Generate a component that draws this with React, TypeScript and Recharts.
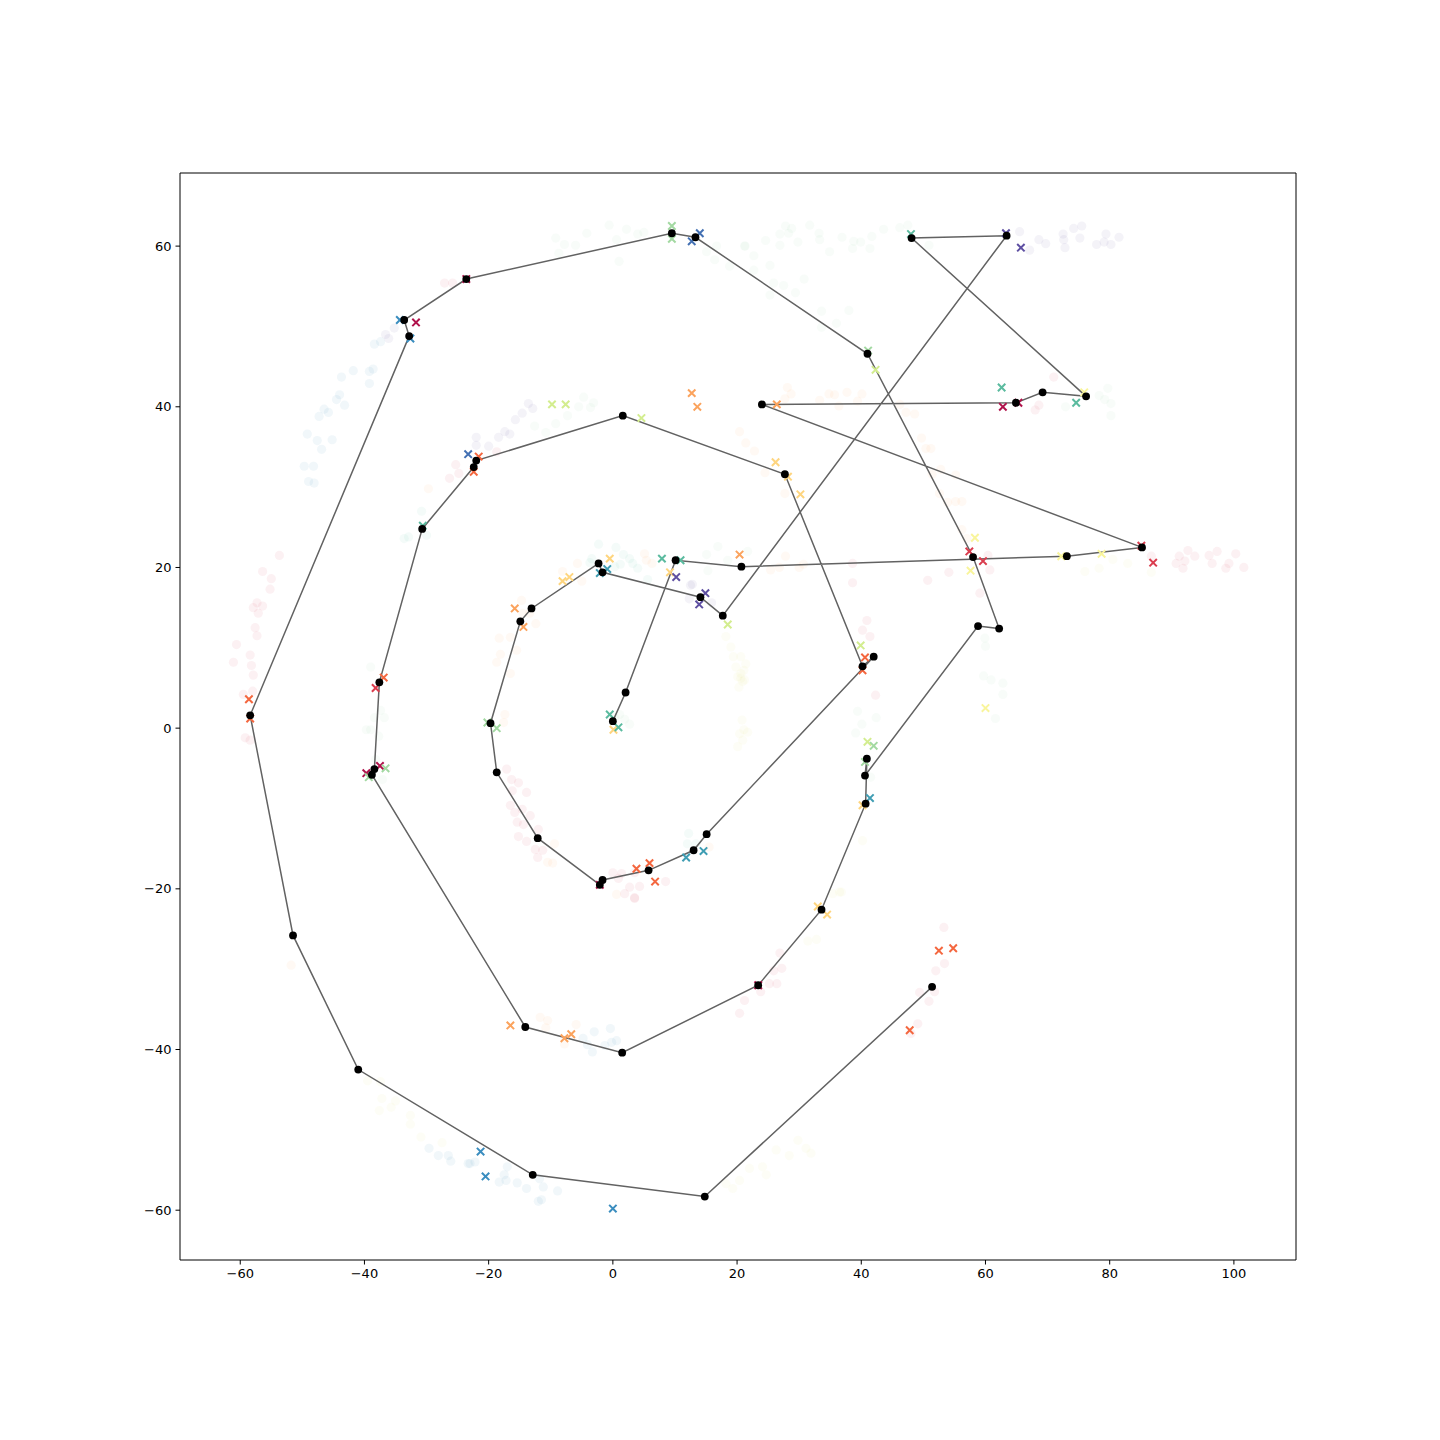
import React from 'react';
import { ScatterChart, Scatter, XAxis, YAxis, ReferenceArea } from 'recharts';

const xTicks = [-60, -40, -20, 0, 20, 40, 60, 80, 100];
const yTicks = [-60, -40, -20, 0, 20, 40, 60];
const xDomain = [-69.7, 110];
const yDomain = [-66.2, 69.1];

// ordered path of black points
const pathPoints = [
  [0, 0.87], [2.05, 4.44], [10.1, 20.9], [20.7, 20.1], [73.1, 21.4], [85.2, 22.5],
  [24.0, 40.3], [64.9, 40.5], [69.2, 41.8], [76.2, 41.3], [48.1, 61.0], [63.4, 61.3],
  [17.7, 14.0], [14.1, 16.3], [-1.66, 19.4], [-2.3, 20.5], [-13.1, 14.9], [-14.9, 13.3],
  [-19.7, 0.62], [-18.7, -5.5], [-12.1, -13.7], [-2.1, -19.5], [-1.66, -18.9], [5.75, -17.7],
  [13.0, -15.2], [15.1, -13.2], [42.0, 8.9], [40.2, 7.7], [27.7, 31.6], [1.6, 38.9],
  [-22.0, 33.3], [-22.4, 32.5], [-30.7, 24.8], [-37.6, 5.7], [-38.4, -5.1], [-38.8, -5.8],
  [-14.1, -37.2], [1.5, -40.4], [23.4, -32.0], [33.6, -22.6], [40.7, -9.4], [40.9, -3.8],
  [40.6, -5.9], [58.8, 12.7], [62.2, 12.4], [58.0, 21.3], [41.0, 46.6], [13.3, 61.1],
  [9.5, 61.6], [-23.6, 55.9], [-33.6, 50.8], [-32.8, 48.8], [-58.4, 1.6], [-51.5, -25.8],
  [-41.0, -42.5], [-12.9, -55.6], [14.8, -58.3], [51.4, -32.2],
];

// X markers grouped by colour
const xCrimson = [[-31.7, 50.5], [62.8, 40.0], [65.3, 40.5], [-37.5, -4.7], [-39.7, -5.6], [-23.6, 55.9], [-2.1, -19.5], [23.4, -32.0]];
const xRed = [[57.4, 22.0], [59.6, 20.8], [85.1, 22.7], [87.0, 20.6], [-38.2, 5.0]];
const xOrangeRed = [[-58.6, 3.6], [-58.4, 1.2], [-36.9, 6.3], [-21.6, 33.8], [-22.4, 31.9], [3.8, -17.5], [5.9, -16.8], [6.8, -19.1], [40.6, 8.8], [40.2, 7.2], [52.5, -27.7], [54.8, -27.4], [47.8, -37.6]];
const xOrange = [[12.7, 41.7], [13.6, 40.0], [26.4, 40.3], [20.4, 21.6], [-15.8, 14.9], [-14.4, 12.6], [-16.5, -37.0], [-7.8, -38.6], [-6.7, -38.1]];
const xYellow = [[26.2, 33.1], [28.2, 31.3], [30.2, 29.1], [-0.5, 21.1], [9.2, 19.4], [-8.1, 18.3], [-7.0, 18.8], [0.1, -0.2], [33.0, -22.2], [34.5, -23.2], [40.2, -9.6]];
const xPaleYellow = [[58.3, 23.7], [57.6, 19.6], [72.2, 21.4], [78.7, 21.7], [60.0, 2.5], [75.9, 41.8]];
const xYellowGreen = [[-9.8, 40.3], [-7.6, 40.3], [4.6, 38.6], [42.3, 44.6], [18.5, 12.9], [39.9, 10.3], [41.0, -1.7]];
const xLightGreen = [[9.5, 62.5], [9.5, 60.9], [41.1, 47.0], [-20.2, 0.7], [-18.7, 0.0], [-36.6, -5.0], [-39.3, -6.1], [42.0, -2.2], [40.6, -4.2]];
const xTealGreen = [[48.0, 61.5], [62.6, 42.4], [74.6, 40.5], [-30.6, 25.2], [7.9, 21.1], [10.9, 20.9], [-0.5, 1.7], [0.9, 0.1]];
const xTealBlue = [[-0.9, 19.8], [-2.1, 19.3], [11.8, -16.1], [14.6, -15.3], [41.4, -8.7]];
const xBlue = [[-34.3, 50.8], [-32.6, 48.5], [-21.3, -52.7], [-20.5, -55.8], [0.0, -59.8]];
const xSteelBlue = [[14.0, 61.6], [12.7, 60.6], [-23.3, 34.1]];
const xPurple = [[63.3, 61.6], [65.7, 59.8], [10.2, 18.8], [14.9, 16.8], [13.9, 15.4]];

// faint background samples grouped by colour
const fPink = [
  [-53.7, 21.5], [-56.4, 19.5], [-55.0, 18.6], [-55.2, 17.3], [-57.3, 15.6], [-57.9, 15.0], [-56.4, 15.2], [-57.1, 14.3], [-57.6, 12.5], [-57.3, 11.5], [-60.6, 10.4], [-58.4, 9.1], [-58.2, 7.8], [-61.1, 8.2], [-57.9, 6.6], [-59.5, 4.2], [-58.0, 4.6], [-59.2, -1.2], [-58.4, -1.5],
  [-17.1, -5.1], [-16.3, -6.4], [-15.2, -6.8], [-16.2, -7.8], [-13.9, -8.0], [-16.5, -9.6], [-15.8, -10.5], [-14.6, -10.1], [-13.3, -10.9], [-15.4, -11.7], [-14.4, -12.0], [-15.2, -13.5], [-13.9, -14.1], [-12.0, -12.6], [-12.5, -15.1], [-11.3, -15.2], [-12.1, -16.1],
  [0, -18.0], [1.4, -18.1], [0.9, -18.7], [2.7, -19.8], [4.3, -19.7], [3.5, -21.1], [3.5, -18.0], [8.5, -19.1], [1.9, -20.6], [3.5, -21.2],
  [21.2, -33.9], [23.8, -32.8], [25.2, -31.8], [26.4, -31.8], [25.9, -30.2], [27.2, -29.9], [26.9, -28.0], [20.4, -35.5],
  [53.3, -24.8], [53.4, -29.3], [52.0, -30.2], [49.4, -32.9], [51.8, -32.8], [50.9, -34.0], [49.1, -36.8], [48.0, -38.0],
  [86.7, 21.4], [91.2, 21.4], [92.6, 22.1], [93.7, 21.4], [92.1, 20.8], [90.7, 20.5], [91.8, 19.9], [96.0, 21.5], [97.3, 22.0], [96.5, 20.5], [100.3, 21.7], [99.2, 20.5], [98.7, 19.9], [101.6, 20.0],
  [71.0, 43.7], [68.0, 39.6], [68.6, 40.2], [38.6, 20.5], [38.6, 18.1], [40.9, 13.4], [40.2, 12.2], [41.4, 11.4], [42.3, 4.1],
  [50.7, 18.4], [54.1, 19.4], [60.4, 21.5], [60.7, 19.7], [59.1, 16.8], [-27.1, 55.4], [-25.8, 55.4], [-26.3, 31.1], [-24.8, 31.7], [-25.3, 32.8], [-18.7, 34.4],
];
const fBlue = [
  [-49.2, 36.6], [-47.6, 35.8], [-46.9, 34.7], [-49.7, 32.6], [-48.2, 32.6], [-49.0, 30.7], [-48.1, 30.5], [-45.2, 35.9], [-47.3, 38.8], [-46.5, 39.7], [-45.8, 39.3], [-44.5, 40.9], [-44.0, 41.5], [-43.2, 40.2], [-43.7, 43.7], [-41.8, 44.5], [-39.2, 44.4], [-38.6, 44.7], [-39.2, 42.9], [-38.4, 47.8], [-37.4, 48.1],
  [-29.6, -52.3], [-28.1, -53.2], [-26.5, -53.2], [-26.1, -53.9], [-23.3, -54.2], [-23.0, -54.2], [-22.2, -54.0], [-17.0, -54.6], [-17.5, -55.6], [-18.3, -56.5], [-17.2, -56.3], [-15.4, -56.6], [-13.9, -57.3], [-11.8, -56.1], [-11.2, -57.1], [-8.9, -57.6], [-12.0, -58.9], [-11.5, -58.7],
  [-3.0, -37.8], [-0.4, -37.4], [-4.8, -38.6], [-4.1, -39.4], [-3.3, -40.3], [-1.3, -39.5], [0.6, -38.9], [-0.2, -39.1],
];
const fPurple = [
  [65.5, 61.8], [67.1, 59.5], [68.6, 60.8], [69.7, 60.3], [72.5, 61.5], [72.6, 60.8], [72.8, 59.8], [74.2, 62.2], [75.5, 62.5], [75.2, 61.0], [77.9, 60.2], [79.1, 60.5], [79.4, 61.5], [80.2, 60.2], [81.5, 61.1],
  [12.5, 17.8], [12.8, 17.9], [12.3, 16.1], [15.9, 15.6], [-36.1, 48.5], [-36.6, 49.0], [-35.2, 49.8],
  [-13.6, 40.4], [-12.9, 39.8], [-14.6, 39.2], [-15.7, 38.4], [-17.4, 36.9], [-16.6, 36.6], [-18.4, 36.2], [-22.0, 36.2], [-22.0, 35.2], [-20.0, 35.1],
];
const fGreen = [
  [-0.6, 62.6], [2.2, 62.1], [-4.2, 61.6], [-9.2, 61.0], [-7.8, 60.2], [-6.0, 60.1], [0.6, 60.8], [4.0, 61.5], [5.0, 61.7], [1.0, 58.1], [-8.7, 59.1], [15.1, 59.3], [16.4, 58.3], [16.7, 60.0], [18.8, 57.5], [21.3, 60.0],
  [21.2, 60.0], [22.7, 58.8], [24.6, 60.7], [26.9, 61.5], [26.9, 60.1], [27.8, 62.5], [28.8, 62.2], [28.3, 61.6], [29.8, 60.5], [31.7, 62.6], [33.2, 61.6], [33.3, 60.8], [34.9, 59.3], [36.9, 61.1], [38.8, 60.6], [39.9, 60.5], [38.6, 59.7], [41.7, 61.2], [41.4, 59.7], [43.6, 62.1], [46.2, 62.3], [47.5, 62.6], [50.9, 60.1],
  [22.7, 57.0], [25.3, 57.6], [25.9, 55.4], [27.5, 55.1], [30.8, 55.9], [29.4, 54.2], [25.3, 53.9], [33.6, 51.9], [38.0, 52.0], [36.0, 50.4], [33.6, 49.9],
  [78.3, 41.4], [79.7, 42.3], [79.2, 40.9], [80.2, 40.4], [80.2, 38.9], [72.9, 40.0],
  [-4.7, 41.2], [-3.1, 40.5], [-3.6, 39.9], [-5.5, 40.0], [-7.3, 38.9], [-9.2, 37.9], [-10.8, 36.8], [-12.6, 37.6],
  [-39.0, 7.6], [-37.4, 2.2], [-36.8, 1.3], [-38.4, 1.3], [-39.0, -0.2], [-39.7, -0.2], [-37.7, -1.0], [-38.2, -3.9], [-37.1, -6.4],
  [59.9, 11.2], [60.0, 10.2], [59.7, 6.5], [60.9, 6.0], [62.8, 5.6], [62.8, 4.2], [61.6, 1.2],
  [39.4, 2.1], [40.1, 0.5], [39.1, -0.6], [42.4, 1.3], [41.5, -6.1],
  [1.1, 1.7], [1.9, 1.1], [2.7, 0.5], [0.3, 1.3], [15.1, 21.6], [15.3, 19.6], [16.9, 22.6], [18.5, 20.9], [21.7, 22.0],
];
const fTeal = [
  [-2.3, 22.9], [-3.4, 21.1], [-3.7, 20.6], [0.5, 22.5], [1.7, 21.6], [1.2, 20.4], [2.7, 21.1], [3.2, 20.5], [4.0, 19.9], [5.6, 18.5], [0.3, 20.1],
  [-30.8, 27.0], [-33.6, 23.6], [-32.9, 23.8], [-30.0, 24.0], [12.2, -13.1], [12.0, -14.4], [13.4, -14.4],
];
const fOrange = [
  [28.1, 42.4], [28.7, 41.6], [27.7, 41.0], [33.3, 40.8], [34.8, 41.6], [35.7, 41.5], [36.4, 40.1], [37.7, 41.8], [40.1, 41.6], [39.4, 40.7], [46.2, 40.3], [47.2, 39.3], [48.6, 39.1], [49.7, 36.1], [50.4, 34.8], [51.2, 34.8], [51.4, 31.6], [52.8, 32.2], [55.2, 31.5], [52.6, 29.2], [53.9, 28.1], [55.2, 28.2], [56.2, 28.2], [56.2, 24.7], [57.0, 23.6],
  [20.4, 36.9], [21.4, 35.5], [22.8, 34.5], [24.5, 31.8], [27.7, 29.2],
  [-14.7, 15.9], [-14.5, 14.3], [-12.4, 13.0], [-13.4, 14.3], [-18.3, 11.2], [-16.5, 11.3], [-15.5, 9.7], [-18.1, 9.2], [-16.5, 6.8], [-18.7, 8.2], [-17.4, 1.7], [-17.6, 0.7],
  [-11.7, -36.0], [-10.5, -36.4], [-10.8, -37.3], [-5.9, -36.9], [-7.8, -39.3], [5.1, 21.7], [5.4, 20.9], [6.3, 20.5], [-8.1, 19.5], [-5.7, 20.5], [-5.0, 18.3],
  [27.8, 21.4], [25.4, 19.7], [26.8, 20.0], [30.0, 20.0], [30.7, 20.4], [-51.8, -29.5], [-29.7, 29.8], [-9.4, -14.4], [-9.7, -16.8], [-10.5, -16.7], [15.5, -14.8], [0.6, -20.7],
];
const fYellow = [
  [18.2, 11.4], [19.0, 10.1], [19.4, 8.9], [19.8, 7.6], [20.6, 6.8], [21.4, 8.0], [20.1, 6.4], [20.9, 5.8], [20.3, 5.1], [21.2, 6.0], [20.8, 1.0], [20.4, -0.7], [20.1, -2.3], [20.9, -1.5], [20.6, 8.9], [21.1, 7.2], [20.6, 6.2], [21.1, -0.2], [21.7, -0.5],
  [-39.5, -43.9], [-37.4, -44.0], [-37.2, -46.1], [-35.7, -47.2], [-35.0, -46.4], [-37.6, -47.6], [-32.6, -48.2], [-32.6, -49.3], [-30.9, -50.9], [-27.5, -51.6],
  [22.0, -54.8], [24.1, -54.6], [26.3, -52.5], [28.4, -53.2], [29.8, -51.3], [31.1, -52.3], [31.9, -52.9], [24.7, -55.6], [18.2, -56.7], [19.3, -57.3], [20.4, -56.3],
  [76.0, 19.5], [78.3, 19.9], [80.5, 21.0], [82.9, 20.5], [86.7, 19.4], [31.4, -26.5], [32.8, -26.3], [35.4, -20.6], [36.8, -20.4], [40.2, -14.0], [36.5, -20.4],
];

const toData = (arr: number[][]) => arr.map(([x, y]) => ({ x, y }));

const Empty = () => <g />;

const makeX = (color: string) => (props: any) => {
  const { cx, cy } = props;
  const s = 3.7;
  return (
    <path
      d={`M${cx - s},${cy - s}L${cx + s},${cy + s}M${cx - s},${cy + s}L${cx + s},${cy - s}`}
      stroke={color}
      strokeWidth={2}
      fill="none"
    />
  );
};

const makeFaint = (color: string) => (props: any) => (
  <circle cx={props.cx} cy={props.cy} r={4.6} fill={color} fillOpacity={0.07} />
);

const BlackDot = (props: any) => <circle cx={props.cx} cy={props.cy} r={3.9} fill="#000" />;

const fmt = (v: number) => String(v).replace('-', '\u2212');

const faintGroups: [number[][], string][] = [
  [fPink, '#d53e4f'],
  [fBlue, '#3288bd'],
  [fPurple, '#5e4fa2'],
  [fGreen, '#99d5a4'],
  [fTeal, '#66c2a5'],
  [fOrange, '#fdae61'],
  [fYellow, '#e6e07a'],
];

const xGroups: [number[][], string][] = [
  [xCrimson, '#b0124b'],
  [xRed, '#da3d4e'],
  [xOrangeRed, '#f4673f'],
  [xOrange, '#fba35d'],
  [xYellow, '#fed57f'],
  [xPaleYellow, '#f9f59c'],
  [xYellowGreen, '#d3ed8f'],
  [xLightGreen, '#a3d9a2'],
  [xTealGreen, '#5bbb9f'],
  [xTealBlue, '#3f9db3'],
  [xBlue, '#3a8dbf'],
  [xSteelBlue, '#4370b3'],
  [xPurple, '#5e4fa2'],
];

export default function App() {
  const tickStyle = { fill: '#000', fontSize: 13, fontFamily: 'DejaVu Sans' };
  return (
    <div style={{ position: 'absolute', left: 0, top: 0, width: 1440, height: 1440, background: '#fff' }}>
      <ScatterChart width={1440} height={1440} margin={{ top: 173, right: 144, bottom: 150, left: 120 }}>
        <XAxis
          type="number"
          dataKey="x"
          domain={xDomain}
          ticks={xTicks}
          allowDataOverflow
          axisLine={false}
          tickLine={{ stroke: '#000', strokeWidth: 1 }}
          tickSize={4.5}
          tickMargin={4}
          tick={tickStyle}
          tickFormatter={fmt}
          height={30}
        />
        <YAxis
          type="number"
          dataKey="y"
          domain={yDomain}
          ticks={yTicks}
          allowDataOverflow
          axisLine={false}
          tickLine={{ stroke: '#000', strokeWidth: 1 }}
          tickSize={4.5}
          tickMargin={4}
          tick={tickStyle}
          tickFormatter={fmt}
          width={60}
        />
        {faintGroups.map(([arr, color], i) => (
          <Scatter key={'f' + i} data={toData(arr)} shape={makeFaint(color)} isAnimationActive={false} />
        ))}
        <Scatter
          data={toData(pathPoints)}
          line={{ stroke: '#626262', strokeWidth: 1.5 }}
          lineJointType="linear"
          shape={Empty}
          isAnimationActive={false}
        />
        {xGroups.map(([arr, color], i) => (
          <Scatter key={'x' + i} data={toData(arr)} shape={makeX(color)} isAnimationActive={false} />
        ))}
        <Scatter data={toData(pathPoints)} shape={BlackDot} isAnimationActive={false} />
        <ReferenceArea
          x1={xDomain[0]}
          x2={xDomain[1]}
          y1={yDomain[0]}
          y2={yDomain[1]}
          fill="none"
          fillOpacity={0}
          stroke="#000"
          strokeWidth={1}
          ifOverflow="visible"
        />
      </ScatterChart>
    </div>
  );
}
